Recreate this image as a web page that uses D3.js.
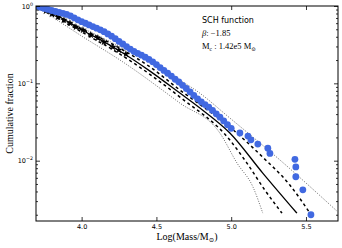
<!DOCTYPE html>
<html>
<head>
<meta charset="utf-8">
<script src="https://cdn.jsdelivr.net/npm/d3@7"></script>
<style>
  body { margin: 0; background: #fff; }
  svg { display: block; }
  .tick text { font-family: "DejaVu Sans", sans-serif; font-size: 6.5px; fill: #000; }
  .tick line { stroke: #000; stroke-width: 0.8; }
</style>
</head>
<body>
<div id="chart"></div>
<script>
// observed clusters (blue) - cumulative fraction vs log mass
const obsMass = [3.700, 3.725, 3.750, 3.775, 3.800, 3.825, 3.850, 3.875, 3.900, 3.925,
    3.950, 3.975, 4.000, 4.025, 4.050, 4.075, 4.100, 4.125, 4.150, 4.175,
    4.200, 4.225, 4.250, 4.275, 4.300, 4.325, 4.350, 4.375, 4.400, 4.425,
    4.450, 4.475, 4.500, 4.525, 4.550, 4.575, 4.600, 4.625, 4.650, 4.675,
    4.700, 4.725, 4.750, 4.775, 4.800, 4.825, 4.850, 4.875, 4.900, 4.925,
    4.950, 4.975, 5.000,
    5.058, 5.112, 5.132, 5.178, 5.245, 5.259, 5.426, 5.432, 5.432, 5.479, 5.533];
const obsFrac = [0.993, 0.962, 0.931, 0.902, 0.875, 0.849, 0.826, 0.802, 0.778, 0.746,
    0.703, 0.662, 0.627, 0.598, 0.570, 0.542, 0.516, 0.492, 0.466, 0.436,
    0.407, 0.378, 0.348, 0.323, 0.299, 0.277, 0.258, 0.244, 0.231, 0.218,
    0.204, 0.190, 0.175, 0.160, 0.147, 0.135, 0.124, 0.113, 0.104, 0.0942,
    0.0857, 0.0774, 0.0698, 0.0631, 0.0574, 0.0531, 0.0492, 0.0448, 0.0404, 0.0365,
    0.0327, 0.0292, 0.0262,
    0.0228, 0.0208, 0.0186, 0.0164, 0.0145, 0.0124, 0.0104, 0.0083, 0.0062, 0.0042, 0.0020];

// black star markers
const starMass = [3.721, 3.761, 3.801, 3.842, 3.882, 3.922, 3.962, 4.009, 4.062, 4.109, 4.149, 4.209, 4.249, 4.296];
const starFrac = [0.942, 0.862, 0.788, 0.721, 0.659, 0.603, 0.535, 0.489, 0.422, 0.386, 0.342, 0.295, 0.270, 0.239];

// model curves
const medMass = [3.695, 3.855, 3.989, 4.142, 4.276, 4.457, 4.657, 4.791, 4.991, 5.211, 5.439];
const medFrac = [1.0, 0.721, 0.505, 0.352, 0.247, 0.144, 0.0748, 0.0479, 0.0228, 0.00692, 0.0021];
const lo1Mass = [3.695, 3.989, 4.276, 4.657, 4.991, 5.105, 5.225, 5.339];
const lo1Frac = [1.0, 0.475, 0.226, 0.0665, 0.0185, 0.00931, 0.00417, 0.0021];
const hi1Mass = [3.695, 3.989, 4.276, 4.457, 4.657, 4.991, 5.211, 5.392, 5.526];
const hi1Frac = [1.0, 0.519, 0.270, 0.163, 0.0819, 0.0272, 0.0111, 0.00484, 0.0021];
const lo2Mass = [3.695, 3.989, 4.276, 4.657, 4.924, 5.039, 5.146, 5.211];
const lo2Frac = [1.0, 0.422, 0.189, 0.0556, 0.0228, 0.00931, 0.00455, 0.0021];
const hi2Mass = [3.695, 3.989, 4.209, 4.437, 4.657, 4.771, 4.991, 5.326, 5.707];
const hi2Frac = [1.0, 0.535, 0.332, 0.200, 0.110, 0.0794, 0.0356, 0.0102, 0.00223];

const xTicks = [4.0, 4.5, 5.0, 5.5];
const yTicks = [1, 0.1, 0.01];
const yTickExp = ['0', '\u22121', '\u22122'];

const W = 342, H = 248;
const L = 36, R = 338, T = 6, B = 221;

const svg = d3.select('#chart').append('svg')
    .attr('width', W)
    .attr('height', H);

const x = d3.scaleLinear().domain([3.695, 5.714]).range([L, R]);
const y = d3.scaleLog().domain([0.00166, 1]).range([B, T]);

svg.append('clipPath').attr('id', 'clip')
    .append('rect').attr('x', L).attr('y', T).attr('width', R - L).attr('height', B - T);

const plot = svg.append('g').attr('clip-path', 'url(#clip)');

function drawLine(xs, ys, dash, width, color) {
    const pts = xs.map(function (v, i) { return [v, ys[i]]; });
    const line = d3.line()
        .x(function (d) { return x(d[0]); })
        .y(function (d) { return y(d[1]); })
        .curve(d3.curveMonotoneX);
    plot.append('path')
        .datum(pts)
        .attr('d', line)
        .attr('fill', 'none')
        .attr('stroke', color)
        .attr('stroke-width', width)
        .attr('stroke-dasharray', dash);
}

drawLine(lo2Mass, lo2Frac, '1,1.5', 0.8, '#444');
drawLine(hi2Mass, hi2Frac, '1,1.5', 0.8, '#444');
drawLine(lo1Mass, lo1Frac, '3,3', 1.5, '#000');
drawLine(hi1Mass, hi1Frac, '3,3', 1.5, '#000');
drawLine(medMass, medFrac, null, 1.3, '#000');

// stars
const star = d3.symbol().type(d3.symbolStar).size(18);
plot.selectAll('path.star')
    .data(starMass.map(function (v, i) { return [v, starFrac[i]]; }))
    .enter().append('path')
    .classed('star', true)
    .attr('d', star)
    .attr('transform', function (d) { return 'translate(' + [x(d[0]), y(d[1])] + ')'; })
    .attr('fill', '#000');

// observed points
plot.selectAll('circle.obs')
    .data(obsMass.map(function (v, i) { return [v, obsFrac[i]]; }))
    .enter().append('circle')
    .classed('obs', true)
    .attr('cx', function (d) { return x(d[0]); })
    .attr('cy', function (d) { return y(d[1]); })
    .attr('r', 3.4)
    .attr('fill', '#4169e1');

// axes, ticks pointing inward
const minor = [];
[0.001, 0.01, 0.1].forEach(function (p) {
    for (let k = 2; k <= 9; k++) {
        const v = p * k;
        if (v > 0.00166 && v < 1) minor.push(v);
    }
});

svg.append('g').attr('transform', 'translate(0,' + B + ')')
    .call(d3.axisBottom(x).tickValues(xTicks).tickSize(-4).tickPadding(3).tickFormat(d3.format('.1f')));
svg.append('g').attr('transform', 'translate(0,' + T + ')')
    .call(d3.axisTop(x).tickValues(xTicks).tickSize(-4).tickFormat(''));

const yl = svg.append('g').attr('transform', 'translate(' + L + ',0)')
    .call(d3.axisLeft(y).tickValues(yTicks).tickSize(-4).tickPadding(3).tickFormat(''));
yl.selectAll('.tick text').each(function (d, i) {
    const t = d3.select(this);
    t.append('tspan').text('10');
    t.append('tspan').text(yTickExp[i]).attr('dy', -3).attr('font-size', 4.8);
});
svg.append('g').attr('transform', 'translate(' + L + ',0)')
    .call(d3.axisLeft(y).tickValues(minor).tickSize(-2).tickFormat(''));
svg.append('g').attr('transform', 'translate(' + R + ',0)')
    .call(d3.axisRight(y).tickValues(yTicks).tickSize(-4).tickFormat(''));
svg.append('g').attr('transform', 'translate(' + R + ',0)')
    .call(d3.axisRight(y).tickValues(minor).tickSize(-2).tickFormat(''));
svg.selectAll('.domain').remove();

svg.append('rect')
    .attr('x', L).attr('y', T).attr('width', R - L).attr('height', B - T)
    .attr('fill', 'none').attr('stroke', '#000').attr('stroke-width', 1);

// labels
const serif = '"Liberation Serif", "DejaVu Serif", serif';
const xl = svg.append('text')
    .attr('x', (L + R) / 2).attr('y', 240)
    .attr('text-anchor', 'middle')
    .attr('font-family', serif).attr('font-size', 10);
xl.append('tspan').text('Log(Mass/M');
xl.append('tspan').text('\u2299').attr('font-size', 6.5).attr('dy', 2);
xl.append('tspan').text(')').attr('dy', -2);

svg.append('text')
    .attr('transform', 'translate(13,' + ((T + B) / 2) + ') rotate(-90)')
    .attr('text-anchor', 'middle')
    .attr('font-family', serif).attr('font-size', 10)
    .text('Cumulative fraction');

svg.append('text')
    .attr('x', 202).attr('y', 23)
    .attr('font-family', '"DejaVu Sans", sans-serif').attr('font-size', 8)
    .text('SCH function');

const beta = svg.append('text')
    .attr('x', 202).attr('y', 36)
    .attr('font-family', serif).attr('font-size', 8.5);
beta.append('tspan').text('\u03b2').attr('font-style', 'italic');
beta.append('tspan').text(':  \u22121.85');

const mc = svg.append('text')
    .attr('x', 202).attr('y', 49)
    .attr('font-family', serif).attr('font-size', 8.5);
mc.append('tspan').text('M');
mc.append('tspan').text('c').attr('font-size', 5.5).attr('dy', 1.5);
mc.append('tspan').text(' : 1.42e5 M').attr('dy', -1.5);
mc.append('tspan').text('\u2299').attr('font-size', 5.5).attr('dy', 2);
</script>
</body>
</html>
